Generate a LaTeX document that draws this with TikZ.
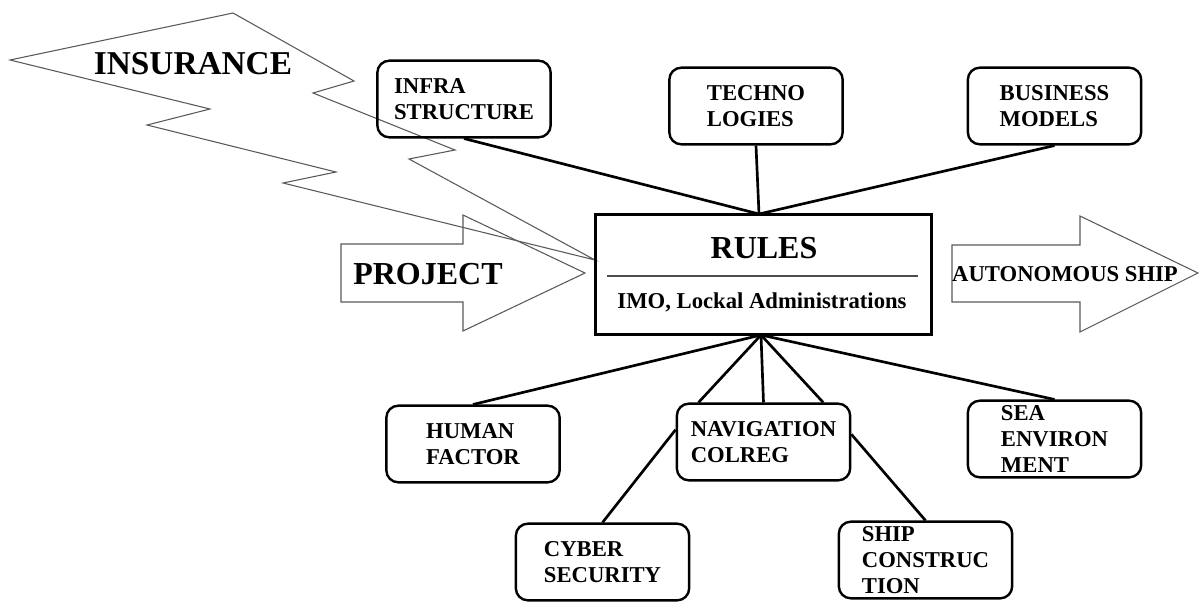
\documentclass[tikz,border=0pt]{standalone}
\usepackage{fontspec}
\setmainfont{Liberation Serif}
\usetikzlibrary{calc}

\begin{document}
\begin{tikzpicture}[x=0.75pt, y=-0.75pt,
  topic/.style={draw, line width=1.8pt, rounded corners=9pt, minimum width=130pt,
    minimum height=57.5pt, inner sep=1pt, align=left,
    font=\fontsize{17}{19.5}\selectfont\bfseries},
  link/.style={line width=2pt},
  outline/.style={draw=black!65, line width=0.8pt},
  big/.style={font=\fontsize{24}{28}\selectfont\bfseries},
]
\useasboundingbox (0,0) rectangle (1200,601);

% insurance lightning bolt
\draw[outline] (10,60) -- (233,13) -- (354,81) -- (313,93) -- (455,150) -- (409,159)
  -- (595,260) -- (283,183) -- (336,172) -- (147,125) -- (210,109) -- cycle;
\node[font=\fontsize{25}{28}\selectfont\bfseries] (insurance) at (193,64) {INSURANCE};

% block arrows in and out
\draw[outline] (341,244) -- (463,244) -- (463,215) -- (585,273) -- (463,331)
  -- (463,302) -- (341,302) -- cycle;
\node[big] (project) at (428,274) {PROJECT};
\draw[outline] (952,245) -- (1080,245) -- (1080,216) -- (1198,273) -- (1080,332)
  -- (1080,302) -- (952,302) -- cycle;
\node[font=\fontsize{17}{20}\selectfont\bfseries] (autoship) at (1065,274) {AUTONOMOUS SHIP};

% central box
\node[draw, line width=2.2pt, minimum width=252.5pt, minimum height=90.5pt] (rules) at (763.5,274.5) {};
\node[big] (rulestitle) at (764,248) {RULES};
\draw[black!70, line width=0.8pt] (607,276) -- (918,276);
\node[font=\fontsize{17}{20}\selectfont\bfseries] (rulesorg) at (762,302) {IMO, Lockal Administrations};
\coordinate (hubN) at (759,214);
\coordinate (hubS) at (761,335);

% upper topics
\node[topic] (infra) at (464,99) {INFRA\\STRUCTURE};
\node[topic] (techno) at (756,106) {TECHNO\\LOGIES};
\node[topic] (biz) at (1054.5,106) {BUSINESS\\MODELS};

% lower topics
\node[topic] (human) at (473,444) {HUMAN\\FACTOR};
\node[topic] (nav) at (763.5,442) {NAVIGATION\\COLREG};
\node[topic] (sea) at (1054.5,439) {SEA\\ENVIRON\\MENT};
\node[topic] (cyber) at (602.5,562) {CYBER\\SECURITY};
\node[topic] (ship) at (925.5,560) {SHIP\\CONSTRUC\\TION};

\draw[link] (infra.south) -- (hubN);
\draw[link] (techno.south) -- (hubN);
\draw[link] (biz.south) -- (hubN);
\draw[link] (human.north) -- (hubS);
\draw[link] ($(nav.north west)!0.13!(nav.north east)$) -- (hubS);
\draw[link] (nav.north) -- (hubS);
\draw[link] ($(nav.north west)!0.84!(nav.north east)$) -- (hubS);
\draw[link] (sea.north) -- (hubS);
\draw[link] (nav.172) -- (cyber.north);
\draw[link] (nav.5) -- (ship.north);
\end{tikzpicture}
\end{document}
